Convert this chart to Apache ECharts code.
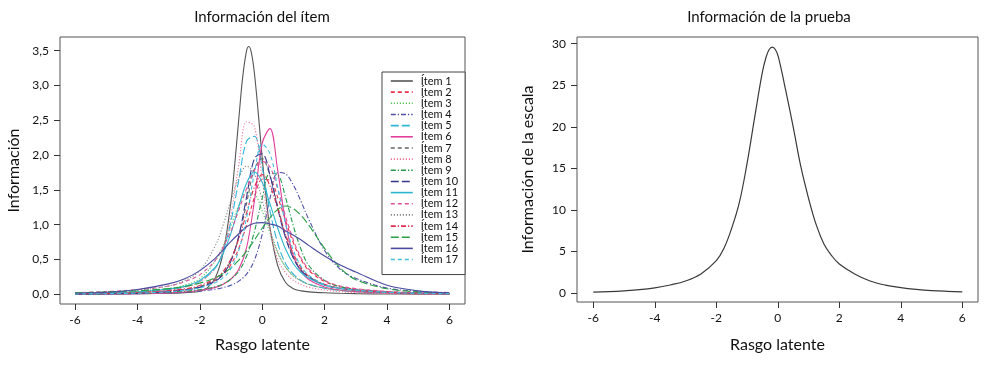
<!DOCTYPE html>
<html>
<head>
<meta charset="utf-8">
<script src="https://cdn.jsdelivr.net/npm/echarts@6/dist/echarts.min.js"></script>
<style>
html,body{margin:0;padding:0;background:#fff;}
#chart{width:992px;height:374px;}
</style>
</head>
<body>
<div id="chart"></div>
<script>
// ---- Data ----
const theta = [-6,-5,-4,-3,-2.5,-2,-1.5,-1.25,-1,-0.75,-0.5,-0.25,0,0.25,0.5,0.75,1,1.25,1.5,2,2.5,3,4,5,6];
// Item 1 is very peaked, so it is read on a finer grid
const theta1 = [-6,-5,-4,-3,-2.5,-2,-1.75,-1.5,-1.25,-1,-0.875,-0.75,-0.625,-0.5,-0.43,-0.35,-0.25,-0.125,0,0.125,0.25,0.5,0.75,1,1.25,1.5,2,2.5,3,4,5,6];
const item1  = [0.002,0.004,0.008,0.015,0.025,0.045,0.097,0.24,0.60,1.33,1.89,2.52,3.12,3.50,3.56,3.48,3.18,2.60,1.96,1.40,0.95,0.41,0.17,0.08,0.05,0.035,0.022,0.015,0.01,0.005,0.003,0.002];
const item2  = [0.008,0.013,0.024,0.049,0.071,0.11,0.20,0.28,0.43,0.66,1.00,1.39,1.65,1.64,1.39,1.06,0.74,0.50,0.34,0.185,0.11,0.075,0.039,0.021,0.013];
const item3  = [0.013,0.023,0.042,0.084,0.13,0.225,0.48,0.70,0.99,1.28,1.46,1.44,1.20,0.88,0.59,0.39,0.27,0.19,0.14,0.087,0.057,0.041,0.021,0.012,0.008];
const item4  = [0.003,0.005,0.010,0.019,0.029,0.046,0.073,0.097,0.13,0.19,0.29,0.49,0.86,1.38,1.75,1.73,1.57,1.33,1.07,0.63,0.36,0.23,0.09,0.045,0.025];
const item5  = [0.009,0.015,0.029,0.068,0.104,0.185,0.38,0.62,1.05,1.64,2.20,2.27,1.82,1.20,0.73,0.44,0.29,0.20,0.146,0.088,0.058,0.038,0.018,0.011,0.006];
const item6  = [0.003,0.005,0.010,0.021,0.033,0.058,0.10,0.145,0.22,0.36,0.67,1.34,2.17,2.38,1.77,1.03,0.55,0.33,0.21,0.106,0.063,0.039,0.017,0.009,0.005];
const item7  = [0.006,0.011,0.021,0.044,0.067,0.11,0.21,0.30,0.49,0.82,1.31,1.80,1.95,1.70,1.26,0.84,0.53,0.35,0.25,0.137,0.086,0.059,0.029,0.016,0.010];
const item8  = [0.007,0.014,0.027,0.063,0.10,0.18,0.38,0.65,1.14,1.86,2.48,2.41,1.65,0.92,0.50,0.31,0.20,0.14,0.10,0.062,0.038,0.025,0.012,0.006,0.004];
const item9  = [0.005,0.008,0.014,0.030,0.044,0.067,0.11,0.15,0.22,0.33,0.55,0.90,1.38,1.74,1.72,1.39,0.98,0.64,0.41,0.20,0.11,0.072,0.035,0.018,0.011];
const item10 = [0.005,0.010,0.017,0.039,0.062,0.10,0.19,0.29,0.48,0.84,1.40,1.95,2.02,1.71,1.23,0.81,0.52,0.34,0.25,0.135,0.087,0.060,0.029,0.016,0.010];
const item11 = [0.012,0.020,0.037,0.076,0.114,0.20,0.39,0.59,0.88,1.26,1.60,1.76,1.61,1.30,0.95,0.65,0.44,0.31,0.23,0.13,0.086,0.060,0.033,0.018,0.011];
const item12 = [0.024,0.040,0.066,0.12,0.18,0.28,0.49,0.68,0.91,1.21,1.52,1.78,1.91,1.83,1.51,1.12,0.78,0.52,0.36,0.20,0.12,0.082,0.042,0.023,0.014];
const item13 = [0.020,0.034,0.060,0.12,0.195,0.34,0.70,1.00,1.35,1.67,1.84,1.73,1.35,0.93,0.61,0.39,0.26,0.19,0.145,0.087,0.059,0.041,0.021,0.012,0.008];
const item14 = [0.009,0.014,0.026,0.053,0.078,0.126,0.23,0.33,0.51,0.80,1.17,1.54,1.72,1.56,1.23,0.86,0.58,0.38,0.26,0.146,0.091,0.060,0.031,0.017,0.010];
const item15 = [0.023,0.034,0.050,0.082,0.11,0.16,0.24,0.30,0.38,0.49,0.62,0.78,0.95,1.10,1.22,1.27,1.23,1.13,0.99,0.66,0.38,0.21,0.08,0.035,0.015];
const item16 = [0.015,0.03,0.07,0.15,0.22,0.34,0.52,0.64,0.76,0.87,0.97,1.02,1.03,1.01,0.98,0.91,0.85,0.78,0.70,0.55,0.42,0.32,0.13,0.05,0.02];
const item17 = [0.005,0.009,0.017,0.036,0.057,0.091,0.17,0.24,0.37,0.63,1.10,1.74,2.16,2.02,1.53,1.01,0.63,0.40,0.27,0.14,0.089,0.060,0.028,0.015,0.009];

const thetaTest = [-6,-5.5,-5,-4.5,-4,-3.5,-3,-2.5,-2,-1.75,-1.5,-1.25,-1,-0.75,-0.5,-0.38,-0.28,-0.18,-0.08,0.02,0.25,0.5,0.75,1,1.25,1.5,1.75,2,2.5,3,3.5,4,4.5,5,5.5,6];
const testInfo  = [0.12,0.18,0.27,0.4,0.62,0.97,1.45,2.3,3.9,5.4,7.8,10.9,15.6,21.2,26.6,28.4,29.3,29.6,29.3,28.4,24.5,20.0,15.2,11.4,8.2,5.9,4.5,3.5,2.3,1.45,0.95,0.66,0.45,0.3,0.21,0.15];

const itemNames = ['Ítem 1','Ítem 2','Ítem 3','Ítem 4','Ítem 5','Ítem 6','Ítem 7','Ítem 8','Ítem 9','Ítem 10','Ítem 11','Ítem 12','Ítem 13','Ítem 14','Ítem 15','Ítem 16','Ítem 17'];
const itemValues = [item1,item2,item3,item4,item5,item6,item7,item8,item9,item10,item11,item12,item13,item14,item15,item16,item17];
const itemThetas = [theta1,theta,theta,theta,theta,theta,theta,theta,theta,theta,theta,theta,theta,theta,theta,theta,theta];

const xTicks = [-6,-4,-2,0,2,4,6];
const yTicksItem = [0,0.5,1,1.5,2,2.5,3,3.5];
const yTicksTest = [0,5,10,15,20,25,30];

// ---- Styles ----
const FONT = 'Lato, "Noto Sans", sans-serif';
const DOT = [1.2,1.8], DASH = [4,3], DASHDOT = [5,2,1.2,2], LONG = [8,3];
const styles = [
  {c:'#555555', t:'solid'},
  {c:'#e8334a', t:DASH},
  {c:'#55c455', t:DOT},
  {c:'#5050a8', t:DASHDOT},
  {c:'#30b6d8', t:LONG},
  {c:'#e0409a', t:'solid'},
  {c:'#666666', t:DASH},
  {c:'#f07898', t:DOT},
  {c:'#229a4a', t:DASHDOT},
  {c:'#363690', t:LONG},
  {c:'#2cb6d0', t:'solid'},
  {c:'#e0509a', t:DASH},
  {c:'#888888', t:DOT},
  {c:'#e03050', t:DASHDOT},
  {c:'#27a045', t:LONG},
  {c:'#4a4aa0', t:'solid'},
  {c:'#40c0e0', t:DASH}
];

const series = itemValues.map((vals, i) => ({
  name: itemNames[i],
  type: 'line',
  xAxisIndex: 0, yAxisIndex: 0,
  smooth: 0.35,
  symbol: 'none',
  color: styles[i].c,
  lineStyle: {color: styles[i].c, width: 1.1, type: styles[i].t},
  data: itemThetas[i].map((x, j) => [x, vals[j]])
}));
series.push({
  name: 'Información de la prueba',
  type: 'line',
  xAxisIndex: 1, yAxisIndex: 1,
  smooth: 0.4,
  symbol: 'none',
  color: '#3a3a3a',
  lineStyle: {color: '#3a3a3a', width: 1.2},
  data: thetaTest.map((x, j) => [x, testInfo[j]])
});

const tickStyle = {show:true, length:6, lineStyle:{color:'#333', width:1}};
const labelStyle = {fontSize:12, color:'#111', fontFamily:FONT};
const nameStyle = {fontSize:16, color:'#111', fontFamily:FONT};

const option = {
  animation: false,
  backgroundColor: '#fff',
  textStyle: {fontFamily: FONT},
  grid: [
    {left:60, top:37, width:405, height:267, show:true, borderColor:'#555', borderWidth:1, backgroundColor:'transparent'},
    {left:577, top:37, width:401, height:265, show:true, borderColor:'#555', borderWidth:1, backgroundColor:'transparent'}
  ],
  xAxis: [
    {type:'value', gridIndex:0, min:-6.48, max:6.5, position:'bottom', splitLine:{show:false}, axisLine:{show:false, onZero:false},
     axisTick:Object.assign({customValues:xTicks}, tickStyle),
     axisLabel:Object.assign({customValues:xTicks, margin:10}, labelStyle),
     name:'Rasgo latente', nameLocation:'middle', nameGap:33, nameTextStyle:nameStyle},
    {type:'value', gridIndex:1, min:-6.53, max:6.51, position:'bottom', splitLine:{show:false}, axisLine:{show:false, onZero:false},
     axisTick:Object.assign({customValues:xTicks}, tickStyle),
     axisLabel:Object.assign({customValues:xTicks, margin:10}, labelStyle),
     name:'Rasgo latente', nameLocation:'middle', nameGap:35, nameTextStyle:nameStyle}
  ],
  yAxis: [
    {type:'value', gridIndex:0, min:-0.139, max:3.697, position:'left', splitLine:{show:false}, axisLine:{show:false, onZero:false},
     axisTick:Object.assign({customValues:yTicksItem}, tickStyle),
     axisLabel:Object.assign({customValues:yTicksItem, margin:11, formatter:v => v.toFixed(1).replace('.', ',')}, labelStyle),
     name:'Información', nameLocation:'middle', nameGap:38, nameTextStyle:nameStyle},
    {type:'value', gridIndex:1, min:-1.08, max:30.81, position:'left', splitLine:{show:false}, axisLine:{show:false, onZero:false},
     axisTick:Object.assign({customValues:yTicksTest}, tickStyle),
     axisLabel:Object.assign({customValues:yTicksTest, margin:11}, labelStyle),
     name:'Información de la escala', nameLocation:'middle', nameGap:41, nameTextStyle:nameStyle}
  ],
  legend: {
    orient:'vertical', left:382, top:72,
    padding:[3.5,7,9.5,8],
    itemWidth:22, itemHeight:8, itemGap:0.16,
    borderColor:'#444', borderWidth:1, backgroundColor:'#fff',
    selectedMode:false,
    itemStyle:{opacity:0, borderWidth:0},
    lineStyle:{width:1.6},
    textStyle:{fontSize:11, lineHeight:11, color:'#111', fontFamily:FONT, padding:[0,0,0,3]},
    data: itemNames
  },
  graphic: [
    {type:'text', x:262, y:17, style:{text:'Información del ítem', textAlign:'center', textVerticalAlign:'middle', fontSize:15, fontFamily:FONT, fill:'#111'}},
    {type:'text', x:769, y:17, style:{text:'Información de la prueba', textAlign:'center', textVerticalAlign:'middle', fontSize:15, fontFamily:FONT, fill:'#111'}}
  ],
  series: series
};

const chart = echarts.init(document.getElementById('chart'), null, {renderer:'canvas'});
chart.setOption(option);
</script>
</body>
</html>
